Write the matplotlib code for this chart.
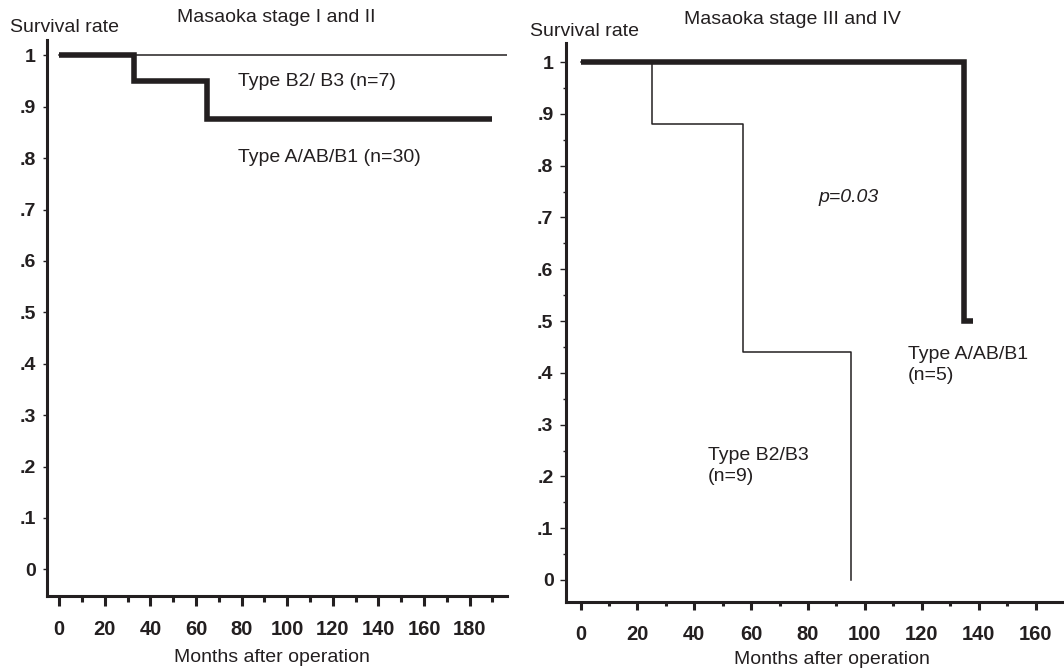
import matplotlib
matplotlib.use("Agg")
import matplotlib.pyplot as plt
import numpy as np

plt.rcParams['font.family'] = ['Liberation Sans', 'DejaVu Sans']

# Masaoka stage I and II
left_b23_months = [0, 197]
left_b23_surv = [1.0, 1.0]
left_ab1_months = [0, 33, 65, 190]
left_ab1_surv = [1.0, 0.95, 0.877, 0.877]

# Masaoka stage III and IV
right_b23_months = [0, 25, 57, 95]
right_b23_surv = [1.0, 0.88, 0.44, 0.0]
right_ab1_months = [0, 135, 138]
right_ab1_surv = [1.0, 0.5, 0.5]

y_ticks = [0, 0.1, 0.2, 0.3, 0.4, 0.5, 0.6, 0.7, 0.8, 0.9, 1.0]
y_labels = ['0', '.1', '.2', '.3', '.4', '.5', '.6', '.7', '.8', '.9', '1']

INK = "#231f20"
W, H = 1064, 671


def px_axes(fig, x0, x1, ytop, ybot):
    return fig.add_axes([x0 / W, (H - ybot) / H, (x1 - x0) / W, (ybot - ytop) / H])


def style_axes(ax, xticks, xlim, ylim, xlens, ymaj_len, yminor):
    for s in ['top', 'right']:
        ax.spines[s].set_visible(False)
    for s in ['left', 'bottom']:
        ax.spines[s].set_linewidth(2.2)
        ax.spines[s].set_color(INK)
    ax.set_xlim(*xlim)
    ax.set_ylim(*ylim)
    ax.set_xticks(xticks)
    ax.set_xticks(np.arange(10, xticks[-1] + 20, 20), minor=True)
    ax.set_yticks(y_ticks)
    ax.set_yticklabels(y_labels)
    if yminor:
        ax.set_yticks(np.arange(0.05, 1.0, 0.1), minor=True)
    ax.tick_params(axis='x', which='major', direction='out', length=xlens[0], width=2.2,
                   color=INK, labelsize=14.5, pad=13.5 - xlens[0] + 3.5, labelcolor=INK)
    ax.tick_params(axis='x', which='minor', direction='out', length=xlens[1], width=2.2, color=INK)
    ax.tick_params(axis='y', which='major', direction='out', length=ymaj_len, width=1.0,
                   color=INK, labelsize=14, pad=5, labelcolor=INK)
    ax.tick_params(axis='y', which='minor', direction='out', length=2.5, width=1.0, color=INK)
    for lab in ax.get_xticklabels() + ax.get_yticklabels():
        lab.set_fontweight('bold')


fig = plt.figure(figsize=(W / 100, H / 100), dpi=100, facecolor="white")

# left panel
ax1 = px_axes(fig, 46.7, 507, 40, 596)
ax1.step(left_b23_months, left_b23_surv, where='post', color=INK, linewidth=1.1)
ax1.step(left_ab1_months, left_ab1_surv, where='post', color=INK, linewidth=4.0,
         solid_joinstyle='miter', solid_capstyle='butt')
style_axes(ax1, list(range(0, 181, 20)), (-5.5, 196.4), (-0.052, 1.030), (7, 4), 3, False)

# right panel
ax2 = px_axes(fig, 566, 1064, 43, 601.7)
ax2.step(right_b23_months, right_b23_surv, where='post', color=INK, linewidth=1.1)
ax2.step(right_ab1_months, right_ab1_surv, where='post', color=INK, linewidth=4.0,
         solid_joinstyle='miter', solid_capstyle='butt')
style_axes(ax2, list(range(0, 161, 20)), (-5.1, 163.7), (-0.042, 1.037), (5.8, 3), 4, True)
ax2.set_xticks(np.arange(10, 170, 20), minor=True)

# texts
fs = 14
fig.text(10 / W, 1 - 28 / H, "Survival rate", fontsize=fs, va='center', ha='left', color=INK)
fig.text(276 / W, 1 - 18 / H, "Masaoka stage I and II", fontsize=fs, va='center', ha='center', color=INK)
fig.text(238 / W, 1 - 82 / H, "Type B2/ B3 (n=7)", fontsize=fs, va='center', ha='left', color=INK)
fig.text(238 / W, 1 - 157 / H, "Type A/AB/B1 (n=30)", fontsize=fs, va='center', ha='left', color=INK)
fig.text(272 / W, 1 - 657 / H, "Months after operation", fontsize=fs, va='center', ha='center', color=INK)

fig.text(530 / W, 1 - 32 / H, "Survival rate", fontsize=fs, va='center', ha='left', color=INK)
fig.text(792 / W, 1 - 20 / H, "Masaoka stage III and IV", fontsize=fs, va='center', ha='center', color=INK)
fig.text(818 / W, 1 - 198 / H, "p=0.03", fontsize=fs, style='italic', va='center', ha='left', color=INK)
fig.text(708 / W, 1 - 466 / H, "Type B2/B3\n(n=9)", fontsize=fs, va='center', ha='left',
         color=INK, linespacing=1.3)
fig.text(908 / W, 1 - 365 / H, "Type A/AB/B1\n(n=5)", fontsize=fs, va='center', ha='left',
         color=INK, linespacing=1.3)
fig.text(832 / W, 1 - 660 / H, "Months after operation", fontsize=fs, va='center', ha='center', color=INK)

fig.savefig("out.png", dpi=100, facecolor=fig.get_facecolor())
